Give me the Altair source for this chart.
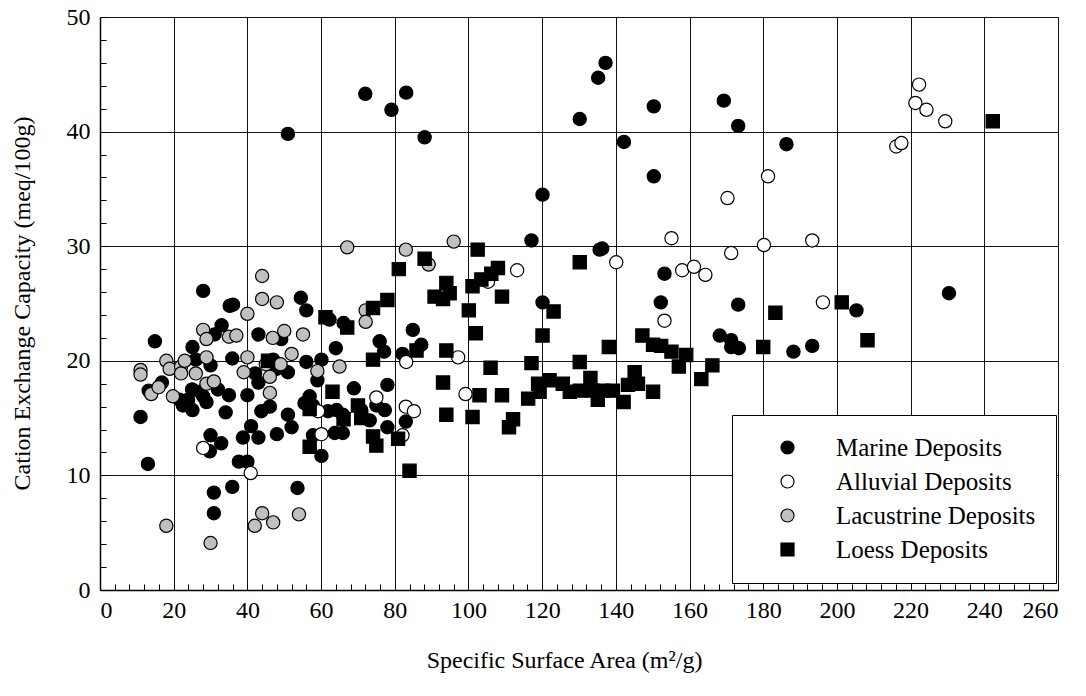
import altair as alt
import pandas as pd

# ---------------- data ----------------
marine_x = [11.0, 13.0, 13.2, 14.9, 16.8, 21.6, 22.5, 23.9, 25.0, 25.1, 25.1, 26.0, 27.1, 28.0, 28.0,
            28.9, 29.8, 30.0, 30.0, 30.9, 30.9, 31.1, 32.0, 32.9, 33.0, 34.1, 35.0, 35.2, 35.9, 35.9,
            36.1, 37.7, 38.8, 40.0, 40.0, 41.0, 42.1, 43.0, 43.0, 43.0, 43.8, 46.1, 47.0, 47.9, 48.0,
            49.2, 51.0, 51.0, 52.0, 53.6, 54.5, 55.5, 56.0, 56.0, 56.9, 57.8, 57.8, 59.0, 60.1, 60.1,
            61.9, 62.3, 63.7, 64.0, 64.2, 65.9, 65.9, 66.1, 68.9, 70.9, 73.2, 75.0, 75.9, 77.1, 77.3,
            78.0, 78.0, 82.1, 83.0, 84.9, 87.2,
            51.0, 72.0, 79.1, 83.1, 88.1, 117.1, 120.1, 120.1, 130.2, 135.2, 135.6, 136.3, 137.2, 142.2,
            150.3, 150.3, 152.2, 153.2, 168.2, 169.3, 171.3, 171.3, 173.2, 173.2, 173.4, 186.3, 188.2,
            193.3, 205.3, 230.4]
marine_y = [15.1, 11.0, 17.4, 21.7, 18.1, 16.6, 16.1, 16.6, 17.5, 21.2, 15.7, 20.1, 17.3, 26.1, 16.9,
            16.4, 12.1, 19.6, 13.5, 8.5, 6.7, 22.3, 17.5, 12.8, 23.1, 15.5, 17.0, 24.8, 20.2, 9.0,
            24.9, 11.2, 13.3, 17.0, 11.2, 14.3, 18.9, 22.3, 18.1, 13.3, 15.6, 16.0, 20.1, 19.3, 13.6,
            21.9, 19.0, 15.3, 14.2, 8.9, 25.5, 16.3, 24.4, 19.9, 16.9, 16.1, 13.5, 18.3, 20.1, 11.7,
            15.6, 23.6, 13.7, 21.1, 15.7, 15.3, 13.7, 23.3, 17.6, 15.7, 14.8, 16.1, 21.7, 20.8, 15.7,
            17.9, 14.2, 20.6, 14.7, 22.7, 21.4,
            39.8, 43.3, 41.9, 43.4, 39.5, 30.5, 34.5, 25.1, 41.1, 44.7, 29.7, 29.8, 46.0, 39.1,
            42.2, 36.1, 25.1, 27.6, 22.2, 42.7, 21.8, 21.2, 40.5, 24.9, 21.1, 38.9, 20.8,
            21.3, 24.4, 25.9]

alluvial_x = [28.0, 40.9, 59.2, 60.1, 75.0, 82.1, 83.0, 83.1, 85.2, 97.2, 99.2, 105.3, 113.2, 140.1,
              153.2, 155.1, 158.0, 161.2, 164.3, 170.3, 171.3, 180.2, 181.3, 193.3, 196.2, 216.1,
              217.5, 221.3, 222.3, 224.3, 229.4]
alluvial_y = [12.4, 10.2, 15.6, 13.6, 16.8, 13.5, 16.0, 19.9, 15.6, 20.3, 17.1, 26.9, 27.9, 28.6,
              23.5, 30.7, 27.9, 28.2, 27.5, 34.2, 29.4, 30.1, 36.1, 30.5, 25.1, 38.7,
              39.0, 42.5, 44.1, 41.9, 40.9]

lacustrine_x = [11.0, 11.0, 13.9, 15.9, 18.0, 18.0, 18.9, 19.8, 22.0, 22.0, 23.0, 26.0, 28.0, 28.9,
                28.9, 28.9, 30.0, 30.9, 35.0, 37.0, 39.0, 40.0, 40.0, 42.0, 44.0, 44.0, 44.0, 45.0,
                46.1, 46.1, 46.9, 47.0, 48.0, 49.0, 50.0, 52.0, 54.0, 55.1, 59.0, 65.0, 67.1, 72.1,
                72.1, 83.0, 89.2, 96.0]
lacustrine_y = [19.2, 18.8, 17.1, 17.7, 20.0, 5.6, 19.3, 16.9, 19.5, 18.9, 20.0, 18.9, 22.7, 21.9,
                20.3, 18.0, 4.1, 18.2, 22.1, 22.2, 19.0, 24.1, 20.3, 5.6, 27.4, 25.4, 6.7, 19.7,
                18.6, 17.2, 22.0, 5.9, 25.1, 19.7, 22.6, 20.6, 6.6, 22.3, 19.1, 19.5, 29.9, 24.4,
                23.4, 29.7, 28.4, 30.4]

loess_x = [45.6, 56.9, 56.9, 61.2, 63.1, 66.1, 67.1, 70.0, 70.9, 74.1, 74.1, 74.1, 75.0, 78.0, 80.9,
           81.1, 84.0, 85.9, 88.1, 90.8, 93.1, 93.1, 94.0, 94.0, 94.0, 94.9, 100.1, 101.1, 101.1,
           102.0, 102.5, 103.0, 103.5, 106.0, 106.2, 108.0, 109.1, 109.1, 111.0, 112.1, 116.2, 117.1,
           118.9, 119.3, 120.1, 122.0, 123.1, 125.6, 127.5, 130.2, 130.2, 130.2, 133.1, 133.6, 135.1,
           136.5, 138.1, 139.2, 142.1, 143.3, 145.1, 146.0, 147.2, 150.1, 150.1, 152.3, 155.1, 157.1,
           159.1, 163.2, 166.2, 180.0, 183.3, 201.3, 208.3, 242.3]
loess_y = [20.0, 15.8, 12.5, 23.8, 17.3, 14.9, 22.9, 16.1, 15.0, 24.6, 20.1, 13.4, 12.6, 25.3, 13.2,
           28.0, 10.4, 20.9, 28.9, 25.6, 25.4, 18.1, 26.8, 20.9, 15.3, 25.9, 24.4, 26.5, 15.1,
           22.4, 29.7, 17.0, 27.1, 19.4, 27.6, 28.1, 25.6, 17.0, 14.2, 14.9, 16.7, 19.8,
           18.0, 17.3, 22.2, 18.3, 24.3, 18.0, 17.3, 28.6, 19.9, 17.4, 18.5, 17.4, 16.6,
           17.4, 21.2, 17.4, 16.4, 17.9, 19.0, 18.0, 22.2, 21.4, 17.3, 21.3, 20.8, 19.5,
           20.5, 18.4, 19.6, 21.2, 24.2, 25.1, 21.8, 40.9]

types = ["Marine Deposits", "Alluvial Deposits", "Lacustrine Deposits", "Loess Deposits"]
fills = ["#000000", "#ffffff", "#c0c0c0", "#000000"]
strokes = ["#000000", "#000000", "#000000", "#000000"]
shapes = ["circle", "circle", "circle", "square"]

x_ticks = list(range(0, 261, 20))
y_ticks = list(range(0, 51, 10))
x_minor = list(range(0, 261, 4))
y_minor = list(range(0, 51, 2))

rows = []
for name, xs, ys in [(types[0], marine_x, marine_y), (types[2], lacustrine_x, lacustrine_y),
                     (types[1], alluvial_x, alluvial_y), (types[3], loess_x, loess_y)]:
    for a, b in zip(xs, ys):
        rows.append({"ssa": a, "cec": b, "type": name})
df = pd.DataFrame(rows)
df["order"] = range(len(df))

W, H = 958, 573
FONT = "Liberation Serif"
xscale = alt.Scale(domain=[0, 260], nice=False, zero=False)
yscale = alt.Scale(domain=[0, 50], nice=False, zero=False)

legend = alt.Legend(
    title=None, orient="none", legendX=632, legendY=398, padding=20,
    fillColor="white", strokeColor="black", cornerRadius=0,
    labelFont=FONT, labelFontSize=25, labelColor="black", labelOffset=36,
    labelLimit=500,
    symbolSize=170, symbolStrokeWidth=1.2,
    symbolOffset=23, rowPadding=8,
)

points = alt.Chart(df).mark_point(filled=True, strokeWidth=1.2,
                                  size=175, opacity=1).encode(
    x=alt.X("ssa:Q", scale=xscale, axis=alt.Axis(
        values=x_ticks, grid=True, gridColor="#111111", gridWidth=1, gridOpacity=1,
        ticks=False, tickSize=0, domain=True, domainColor="black", domainWidth=1.5,
        labelFont=FONT, labelFontSize=24, labelColor="black", labelPadding=8,
        title="Specific Surface Area (m²/g)", titleFont=FONT, titleFontSize=24,
        titleFontWeight="normal", titleColor="black", titleX=464, titleY=70,
        titleBaseline="middle", titleAlign="center")),
    y=alt.Y("cec:Q", scale=yscale, axis=alt.Axis(
        values=y_ticks, grid=True, gridColor="#111111", gridWidth=1, gridOpacity=1,
        ticks=False, tickSize=0, domain=True, domainColor="black", domainWidth=1.5,
        labelFont=FONT, labelFontSize=24, labelColor="black", labelPadding=10,
        title="Cation Exchange Capacity (meq/100g)", titleFont=FONT, titleFontSize=24,
        titleFontWeight="normal", titleColor="black", titleX=-78, titleY=286,
        titleBaseline="middle", titleAlign="center")),
    fill=alt.Fill("type:N", scale=alt.Scale(domain=types, range=fills), legend=legend),
    stroke=alt.Stroke("type:N", scale=alt.Scale(domain=types, range=strokes), legend=legend),
    shape=alt.Shape("type:N", scale=alt.Scale(domain=types, range=shapes), legend=legend),
    order=alt.Order("order:Q"),
)

minor = alt.Chart(df).mark_point(opacity=0).encode(
    x=alt.X("ssa:Q", scale=xscale, axis=alt.Axis(
        orient="top", offset=-H, values=x_minor, labels=False, domain=False, grid=False,
        ticks=True, tickSize=6, tickColor="black", tickWidth=1, title=None)),
    y=alt.Y("cec:Q", scale=yscale, axis=alt.Axis(
        orient="right", offset=-W, values=y_minor, labels=False, domain=False, grid=False,
        ticks=True, tickSize=6, tickColor="black", tickWidth=1, title=None)),
)

chart = alt.layer(points, minor).resolve_axis(x="independent", y="independent").properties(
    width=W, height=H,
    autosize=alt.AutoSizeParams(type="none"),
    padding={"left": 92, "top": 9, "right": 20, "bottom": 90},
    background="white",
).configure_view(stroke="black", strokeWidth=1.5).configure(font=FONT)

chart.save("out.html", embed_options={"renderer": "svg", "actions": False})
